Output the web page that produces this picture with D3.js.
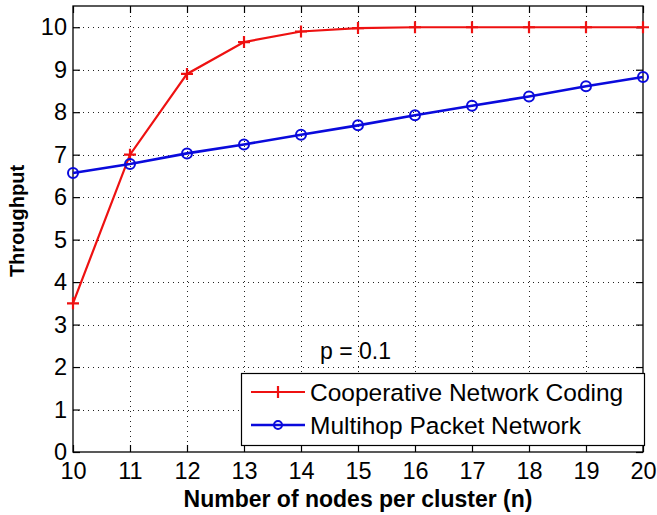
<!DOCTYPE html>
<html>
<head>
<meta charset="utf-8">
<script src="https://cdn.jsdelivr.net/npm/d3@7"></script>
<style>
  html, body { margin: 0; padding: 0; background: #fff; }
  svg { display: block; font-family: "Liberation Sans", Arial, sans-serif; }
</style>
</head>
<body>
<svg id="chart" width="657" height="515"></svg>
<script>
// Throughput vs. number of nodes per cluster, p = 0.1
const nodes = [10, 11, 12, 13, 14, 15, 16, 17, 18, 19, 20];
const cooperativeCoding = [3.5, 7.0, 8.9, 9.65, 9.9, 9.98, 10, 10, 10, 10, 10];
const multihopPacket = [6.57, 6.78, 7.03, 7.24, 7.47, 7.69, 7.93, 8.15, 8.37, 8.61, 8.83];
const xTicks = [10, 11, 12, 13, 14, 15, 16, 17, 18, 19, 20];
const yTicks = [0, 1, 2, 3, 4, 5, 6, 7, 8, 9, 10];
const seriesNames = ["Cooperative Network Coding", "Multihop Packet Network"];

const svg = d3.select("#chart");
const plotLeft = 73, plotRight = 643, plotTop = 6, plotBottom = 452;
const RED = "#ee1111", BLUE = "#0a0adc";

const x = d3.scaleLinear().domain([10, 20]).range([plotLeft, plotRight]);
const y = d3.scaleLinear().domain([0, 10.5]).range([plotBottom, plotTop]);

// dotted grid
const grid = svg.append("g").attr("stroke", "#222").attr("stroke-width", 1)
  .attr("stroke-dasharray", "1,4");
grid.selectAll("line.gx").data(xTicks.slice(1, -1)).join("line")
  .attr("x1", d => Math.round(x(d)) + 0.5).attr("x2", d => Math.round(x(d)) + 0.5)
  .attr("y1", plotTop).attr("y2", plotBottom);
grid.selectAll("line.gy").data(yTicks.slice(1)).join("line")
  .attr("y1", d => Math.round(y(d)) + 0.5).attr("y2", d => Math.round(y(d)) + 0.5)
  .attr("x1", plotLeft).attr("x2", plotRight);

// axes with inward ticks on all four sides
const tickLen = 7;
const axB = svg.append("g").attr("transform", `translate(0,${plotBottom})`)
  .call(d3.axisBottom(x).tickValues(xTicks).tickFormat(d3.format("d"))
    .tickSizeInner(-tickLen).tickSizeOuter(0).tickPadding(10));
const axL = svg.append("g").attr("transform", `translate(${plotLeft},0)`)
  .call(d3.axisLeft(y).tickValues(yTicks).tickFormat(d3.format("d"))
    .tickSizeInner(-tickLen).tickSizeOuter(0).tickPadding(6));
const axT = svg.append("g").attr("transform", `translate(0,${plotTop})`)
  .call(d3.axisTop(x).tickValues(xTicks).tickFormat("")
    .tickSizeInner(-tickLen).tickSizeOuter(0));
const axR = svg.append("g").attr("transform", `translate(${plotRight},0)`)
  .call(d3.axisRight(y).tickValues(yTicks).tickFormat("")
    .tickSizeInner(-tickLen).tickSizeOuter(0));
[axB, axL, axT, axR].forEach(a => {
  a.select(".domain").remove();
  a.selectAll("line").attr("stroke", "#000").attr("stroke-width", 1.2);
  a.selectAll("text").attr("fill", "#000").style("font-size", "23.5px")
    .style("font-family", "'Liberation Sans', Arial, sans-serif");
});

// box
svg.append("rect").attr("x", plotLeft).attr("y", plotTop)
  .attr("width", plotRight - plotLeft).attr("height", plotBottom - plotTop)
  .attr("fill", "none").attr("stroke", "#000").attr("stroke-width", 1.3);

// series
const line = d3.line().x(d => x(d[0])).y(d => y(d[1]));
const redPts = nodes.map((n, i) => [n, cooperativeCoding[i]]);
const bluePts = nodes.map((n, i) => [n, multihopPacket[i]]);

svg.append("path").datum(redPts).attr("d", line)
  .attr("fill", "none").attr("stroke", RED).attr("stroke-width", 2.2);
svg.append("path").datum(bluePts).attr("d", line)
  .attr("fill", "none").attr("stroke", BLUE).attr("stroke-width", 2.6);

function plus(g, cx, cy, s, color) {
  g.append("path").attr("d", `M${cx - s},${cy}H${cx + s}M${cx},${cy - s}V${cy + s}`)
    .attr("stroke", color).attr("stroke-width", 2.2).attr("fill", "none");
}
const redMarks = svg.append("g");
redPts.forEach(p => plus(redMarks, x(p[0]), y(p[1]), 6, RED));

svg.append("g").selectAll("circle").data(bluePts).join("circle")
  .attr("cx", d => x(d[0])).attr("cy", d => y(d[1])).attr("r", 5)
  .attr("fill", "none").attr("stroke", BLUE).attr("stroke-width", 2);

// annotation
svg.append("text").attr("x", 320).attr("y", 359).text("p = 0.1")
  .style("font-size", "23px").attr("fill", "#000");

// legend
const lg = svg.append("g");
lg.append("rect").attr("x", 241.5).attr("y", 373.5).attr("width", 403).attr("height", 72)
  .attr("fill", "#fff").attr("stroke", "#000").attr("stroke-width", 1.2);
const rows = [392, 425];
lg.append("line").attr("x1", 251).attr("x2", 305).attr("y1", rows[0]).attr("y2", rows[0])
  .attr("stroke", RED).attr("stroke-width", 2.2);
plus(lg, 278, rows[0], 6, RED);
lg.append("line").attr("x1", 251).attr("x2", 305).attr("y1", rows[1]).attr("y2", rows[1])
  .attr("stroke", BLUE).attr("stroke-width", 2.6);
lg.append("circle").attr("cx", 278).attr("cy", rows[1]).attr("r", 4)
  .attr("fill", "none").attr("stroke", BLUE).attr("stroke-width", 2);
lg.selectAll("text").data(seriesNames).join("text")
  .attr("x", 310).attr("y", (d, i) => rows[i] + 9).text(d => d)
  .style("font-size", "24.5px").attr("fill", "#000");

// axis labels
svg.append("text").attr("x", (plotLeft + plotRight) / 2).attr("y", 507)
  .attr("text-anchor", "middle").style("font-size", "23px").style("font-weight", "bold")
  .text("Number of nodes per cluster (n)");
svg.append("text").attr("transform", "translate(24,221) rotate(-90)")
  .attr("text-anchor", "middle").style("font-size", "20px").style("font-weight", "bold")
  .text("Throughput");
</script>
</body>
</html>
